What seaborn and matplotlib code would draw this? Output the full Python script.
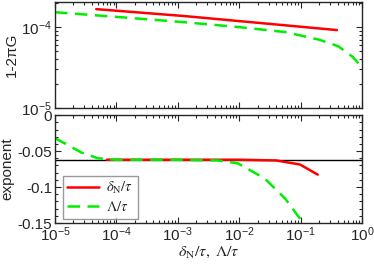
import matplotlib
matplotlib.use("Agg")
import matplotlib.pyplot as plt
import matplotlib.ticker as mticker
import seaborn as sns
import pandas as pd

# top panel: 1-2piG
delta_x = [4.7e-5, 1.3e-3, 0.39]
delta_g = [1.67e-4, 1.37e-4, 9.2e-5]
lam_x = [1e-5, 1e-4, 1.3e-3, 1e-2, 5.6e-2, 0.2, 0.41, 0.7, 1.0]
lam_g = [1.53e-4, 1.34e-4, 1.15e-4, 1.0e-4, 8.7e-5, 7.0e-5, 5.8e-5, 4.3e-5, 3.2e-5]

# bottom panel: exponent
delta_ex = [7e-5, 1e-3, 1e-2, 4e-2, 9.8e-2, 0.19]
delta_e = [-0.062, -0.062, -0.062, -0.063, -0.0687, -0.0827]
lam_ex = [1e-5, 1.5e-5, 2.7e-5, 5e-5, 1e-4, 1e-3, 4.5e-3, 9.5e-3, 2.6e-2, 5.6e-2, 9.8e-2, 0.11]
lam_e = [-0.032, -0.040, -0.052, -0.060, -0.062, -0.062, -0.063, -0.067, -0.088, -0.116, -0.144, -0.152]
ref_line = -0.062

sns.set_style("ticks")
plt.rcParams["font.family"] = ["Liberation Sans", "DejaVu Sans"]
plt.rcParams["mathtext.fontset"] = "stix"

red = "#ff0000"
green = "#00ee00"

fig = plt.figure(figsize=(3.74, 2.64), dpi=100)
ax1 = fig.add_axes([0.147, 0.591, 0.821, 0.401])
ax2 = fig.add_axes([0.147, 0.155, 0.821, 0.409])

top_d = pd.DataFrame({"x": delta_x, "y": delta_g})
top_l = pd.DataFrame({"x": lam_x, "y": lam_g})
bot_d = pd.DataFrame({"x": delta_ex, "y": delta_e})
bot_l = pd.DataFrame({"x": lam_ex, "y": lam_e})

sns.lineplot(data=top_d, x="x", y="y", ax=ax1, color=red, lw=1.8)
sns.lineplot(data=top_l, x="x", y="y", ax=ax1, color=green, lw=1.8, dashes=False)
ax1.lines[-1].set_dashes([5, 3])

ax2.axhline(ref_line, color="black", lw=1.0)
sns.lineplot(data=bot_d, x="x", y="y", ax=ax2, color=red, lw=1.8,
             label=r"$\delta_{\rm N}/\tau$")
sns.lineplot(data=bot_l, x="x", y="y", ax=ax2, color=green, lw=1.8,
             label=r"$\Lambda/\tau$")
ax2.lines[-1].set_dashes([5, 3])

for ax in (ax1, ax2):
    ax.set_xscale("log")
    ax.set_xlim(1e-5, 1)
    ax.tick_params(which="both", direction="in", top=True, right=True,
                   labelsize=11, width=0.8, pad=2)
    ax.tick_params(which="major", length=4)
    ax.tick_params(which="minor", length=2)
    ax.xaxis.set_minor_locator(mticker.LogLocator(base=10, subs=range(2, 10), numticks=20))
    for s in ax.spines.values():
        s.set_linewidth(1.0)

ax1.set_yscale("log")
ax1.set_ylim(1e-5, 2.04e-4)
ax1.set_xticklabels([])
ax1.set_xlabel("")
ax1.set_ylabel("1-2πG", fontsize=11, labelpad=2)

ax2.set_ylim(-0.15, 0)
ax2.yaxis.set_major_locator(mticker.MultipleLocator(0.05))
ax2.yaxis.set_minor_locator(mticker.MultipleLocator(0.01))
ax2.set_yticks([-0.15, -0.1, -0.05, 0])
ax2.set_yticklabels(["-0.15", "-0.1", "-0.05", "0"])
ax2.set_ylabel("exponent", fontsize=11, labelpad=2)
ax2.set_xlabel(r"$\delta_{\rm N}/\tau,\ \Lambda/\tau$", fontsize=11.5, labelpad=0)

leg = ax2.legend(loc="lower left", bbox_to_anchor=(0.025, 0.04), fontsize=10.5,
                 frameon=True, fancybox=False, edgecolor="gray", handlelength=2.2,
                 borderaxespad=0, handletextpad=0.5, borderpad=0.3, labelspacing=0.3)
leg.get_frame().set_linewidth(1.0)

fig.savefig("out.png", dpi=100)
